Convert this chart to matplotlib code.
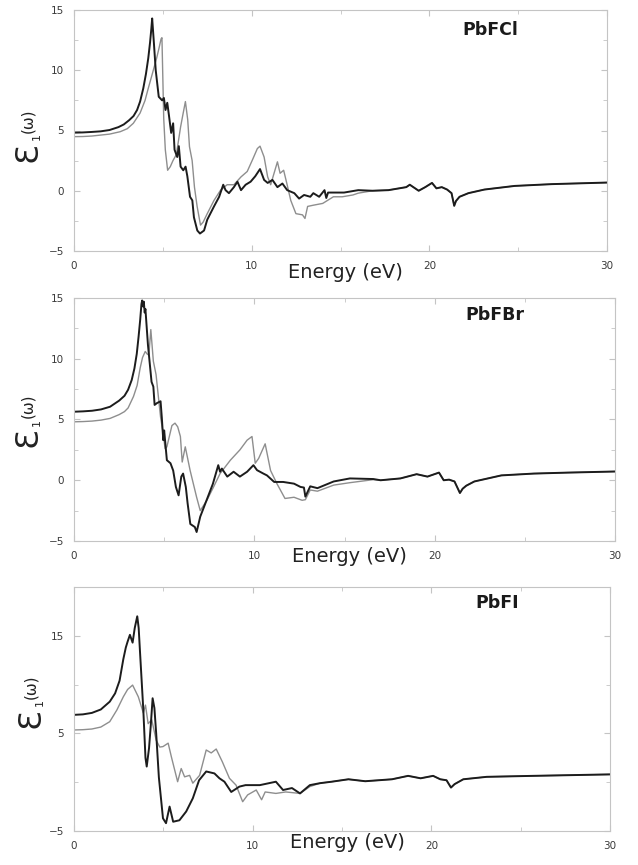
import matplotlib
matplotlib.use("Agg")
import matplotlib.pyplot as plt
from matplotlib.ticker import MultipleLocator, FixedLocator

plt.rcParams['font.family'] = ['DejaVu Sans']

# ---- PbFCl ----
pbfcl_black_e = [0, 0.5, 1, 1.5, 2, 2.5, 2.8, 3.1, 3.35, 3.55, 3.72, 3.9, 4.05, 4.18, 4.28, 4.35, 4.4,
                 4.5, 4.6, 4.77, 4.96, 5.06, 5.15, 5.25, 5.34, 5.47, 5.58, 5.66, 5.81, 5.9, 6.0, 6.15,
                 6.28, 6.38, 6.53, 6.66, 6.75, 6.94, 7.09, 7.32, 7.5, 7.88, 8.17, 8.4, 8.53, 8.72, 9.0,
                 9.2, 9.4, 9.66, 9.94, 10.2, 10.47, 10.7, 10.9, 11.17, 11.45, 11.73, 12.0, 12.4, 12.67,
                 12.95, 13.3, 13.47, 13.8, 14.1, 14.2, 14.3, 15.2, 16.0]
pbfcl_black_eps = [4.82, 4.84, 4.88, 4.93, 5.04, 5.28, 5.5, 5.85, 6.2, 6.7, 7.4, 8.5, 9.7, 11.0,
                   12.3, 13.4, 14.3, 12.2, 10.0, 7.8, 7.5, 7.7, 6.7, 7.3, 6.3, 4.8, 5.6, 3.4, 2.8,
                   3.7, 2.0, 1.7, 2.0, 1.2, -0.5, -0.8, -2.2, -3.3, -3.55, -3.3, -2.4, -1.3, -0.5,
                   0.5, 0.05, -0.2, 0.3, 0.75, 0.05, 0.5, 0.75, 1.2, 1.8, 0.9, 0.65, 0.9, 0.3, 0.6,
                   0.05, -0.2, -0.65, -0.35, -0.5, -0.2, -0.5, 0.05, -0.6, -0.15, -0.15, 0.05]
pbfcl_gray_e = [0, 0.5, 1, 1.5, 2, 2.6, 3.0, 3.34, 3.72, 4.0, 4.18, 4.37, 4.5, 4.65, 4.78, 4.9, 4.95,
                5.05, 5.14, 5.27, 5.42, 5.57, 5.76, 6.0, 6.14, 6.27, 6.4, 6.5, 6.65, 6.78, 6.93, 7.12,
                7.27, 7.5, 7.88, 8.25, 8.62, 9.0, 9.4, 9.75, 10.04, 10.32, 10.47, 10.7, 10.9, 11.07,
                11.26, 11.45, 11.6, 11.8, 11.98, 12.2, 12.49, 12.86, 13.0, 13.15, 13.47, 14.0, 14.6,
                15.1, 15.7, 16.0]
pbfcl_gray_eps = [4.49, 4.5, 4.54, 4.62, 4.7, 4.9, 5.15, 5.6, 6.45, 7.5, 8.5, 9.5, 10.2, 11.0,
                  11.8, 12.6, 12.7, 6.0, 3.4, 1.7, 2.0, 2.5, 3.0, 5.3, 6.4, 7.4, 5.9, 3.65, 2.5, 0.3,
                  -1.3, -2.85, -2.6, -1.9, -0.8, 0.05, 0.5, 0.5, 1.15, 1.6, 2.55, 3.5, 3.7, 2.8,
                  1.15, 0.5, 1.45, 2.4, 1.45, 1.7, 0.6, -0.8, -1.9, -2.0, -2.3, -1.3, -1.2, -1.05,
                  -0.5, -0.5, -0.35, -0.2]
pbfcl_tail_e = [16.8, 17.7, 18.7, 18.9, 19.4, 19.77, 20.15, 20.4, 20.7, 21.0, 21.25, 21.4, 21.5,
                21.7, 22.2, 23.1, 24.8, 26.9, 30.0]
pbfcl_tail_eps = [0.0, 0.05, 0.3, 0.5, 0.0, 0.3, 0.65, 0.2, 0.3, 0.1, -0.2, -1.25, -0.85, -0.5,
                  -0.2, 0.1, 0.4, 0.55, 0.68]

# ---- PbFBr ----
pbfbr_black_e = [0, 0.5, 1, 1.5, 2, 2.5, 2.8, 3.0, 3.2, 3.35, 3.48, 3.58, 3.67, 3.74, 3.78, 3.83, 3.87,
                 3.92, 3.96, 4.1, 4.3, 4.4, 4.47, 4.6, 4.8, 4.87, 4.95, 5.0, 5.15, 5.35, 5.5, 5.65, 5.8,
                 5.95, 6.05, 6.2, 6.3, 6.45, 6.7, 6.8, 7.0, 7.35, 7.7, 8.0, 8.1, 8.2, 8.5, 8.85, 9.2,
                 9.6, 9.95, 10.15, 10.5, 10.7, 11.1, 11.6, 12.2, 12.56, 12.75, 12.83, 13.1, 13.5,
                 14.4, 15.3, 16.6]
pbfbr_black_eps = [5.64, 5.67, 5.72, 5.83, 6.05, 6.55, 6.95, 7.45, 8.25, 9.2, 10.4, 11.8, 13.2,
                   14.5, 14.8, 14.3, 14.7, 13.8, 14.1, 11.15, 8.1, 7.7, 6.2, 6.35, 6.5, 5.15, 3.3,
                   4.1, 1.65, 1.4, 0.8, -0.55, -1.24, 0.3, 0.55, -0.55, -1.9, -3.6, -3.85, -4.26,
                   -3.0, -1.65, -0.3, 1.24, 0.7, 0.96, 0.3, 0.7, 0.3, 0.7, 1.24, 0.83, 0.55, 0.4,
                   -0.14, -0.14, -0.28, -0.55, -0.6, -1.35, -0.5, -0.65, -0.1, 0.15, 0.1]
pbfbr_gray_e = [0, 0.5, 1, 1.5, 2, 2.5, 2.8, 3.0, 3.3, 3.5, 3.67, 3.8, 3.95, 4.05, 4.15, 4.26, 4.4,
                4.55, 4.67, 4.8, 4.95, 5.05, 5.15, 5.43, 5.6, 5.75, 5.9, 6.0, 6.17, 6.44, 6.8, 7.0,
                7.37, 7.74, 8.1, 8.67, 9.2, 9.6, 9.87, 10.05, 10.24, 10.6, 10.9, 11.26, 11.7, 12.2,
                12.65, 12.83, 13.1, 13.5, 14.4, 15.3, 16.6]
pbfbr_gray_eps = [4.81, 4.83, 4.87, 4.95, 5.09, 5.4, 5.65, 5.95, 6.9, 7.8, 9.25, 10.1, 10.6, 10.4,
                  10.3, 12.4, 9.8, 8.7, 7.0, 5.2, 3.8, 2.6, 2.75, 4.5, 4.7, 4.4, 3.6, 1.5, 2.75,
                  0.8, -1.4, -2.5, -1.65, -0.55, 0.55, 1.65, 2.5, 3.3, 3.6, 1.4, 1.8, 3.0, 0.8,
                  -0.3, -1.5, -1.4, -1.65, -1.6, -0.8, -0.9, -0.4, -0.2, 0.05]
pbfbr_tail_e = [17.0, 18.1, 19.0, 19.6, 20.24, 20.5, 20.8, 21.1, 21.4, 21.55, 21.75, 22.2, 23.7,
                25.5, 27.4, 30.0]
pbfbr_tail_eps = [0.0, 0.15, 0.5, 0.3, 0.63, 0.0, 0.05, -0.1, -1.05, -0.7, -0.45, -0.1, 0.4, 0.55,
                  0.63, 0.72]

# ---- PbFI ----
pbfi_black_e = [0, 0.5, 1.0, 1.5, 2.0, 2.3, 2.55, 2.76, 2.9, 3.0, 3.13, 3.28, 3.4, 3.54, 3.62, 3.69,
                3.88, 4.0, 4.07, 4.2, 4.3, 4.4, 4.5, 4.6, 4.75, 4.98, 5.15, 5.35, 5.55, 5.9, 6.28,
                6.65, 7.0, 7.4, 7.86, 8.14, 8.42, 8.8, 9.26, 9.6, 10.4, 11.3, 11.7, 12.2, 12.65,
                13.2, 13.77]
pbfi_black_eps = [6.9, 6.95, 7.1, 7.45, 8.25, 9.1, 10.4, 12.6, 13.8, 14.4, 15.1, 14.3, 15.8, 17.0,
                  15.8, 13.5, 7.4, 2.5, 1.6, 3.5, 5.9, 8.6, 7.6, 5.0, 0.5, -3.7, -4.2, -2.5, -4.05,
                  -3.9, -3.0, -1.65, 0.2, 1.1, 0.9, 0.4, 0.05, -1.0, -0.45, -0.3, -0.3, 0.05, -0.8,
                  -0.6, -1.15, -0.3, -0.1]
pbfi_gray_e = [0, 0.5, 1, 1.5, 2.0, 2.4, 2.76, 3.0, 3.28, 3.6, 3.88, 4.0, 4.15, 4.35, 4.6, 4.8, 4.98,
               5.27, 5.45, 5.8, 6.0, 6.19, 6.47, 6.65, 7.03, 7.4, 7.68, 7.96, 8.3, 8.7, 9.07, 9.44,
               9.72, 10.2, 10.5, 10.7, 11.3, 11.85, 12.65, 13.2, 13.77]
pbfi_gray_eps = [5.35, 5.38, 5.45, 5.65, 6.2, 7.4, 8.75, 9.5, 9.95, 8.75, 7.1, 7.9, 6.0, 6.4, 4.3,
                 3.6, 3.65, 4.0, 2.6, 0.05, 1.4, 0.55, 0.7, -0.1, 0.7, 3.3, 3.0, 3.4, 2.1, 0.4,
                 -0.3, -2.0, -1.3, -0.8, -1.8, -1.0, -1.15, -1.0, -1.15, -0.45, -0.1]
pbfi_tail_e = [14.42, 15.36, 16.3, 17.8, 18.7, 19.4, 20.1, 20.5, 20.85, 21.1, 21.3, 21.79, 23.1,
               25.7, 30.0]
pbfi_tail_eps = [0.05, 0.3, 0.1, 0.3, 0.65, 0.4, 0.65, 0.3, 0.2, -0.55, -0.2, 0.3, 0.55, 0.65, 0.8]

panels = [
    ("PbFCl", pbfcl_black_e, pbfcl_black_eps, pbfcl_gray_e, pbfcl_gray_eps, pbfcl_tail_e, pbfcl_tail_eps),
    ("PbFBr", pbfbr_black_e, pbfbr_black_eps, pbfbr_gray_e, pbfbr_gray_eps, pbfbr_tail_e, pbfbr_tail_eps),
    ("PbFI", pbfi_black_e, pbfi_black_eps, pbfi_gray_e, pbfi_gray_eps, pbfi_tail_e, pbfi_tail_eps),
]

# axes rectangles (pixels in a 638x865 picture)
rects = [(74, 10, 607, 251), (74, 298, 615, 541), (74, 587, 610, 831)]
title_pos = [(0.782, 0.917), (0.778, 0.93), (0.789, 0.934)]
xlabel_off = [21, 16, 12]
ylabel_px = [(28, 152), (28, 437), (31, 718)]

W, H = 638, 865
fig = plt.figure(figsize=(W / 100, H / 100), dpi=100)
fig.patch.set_facecolor("white")


def ftext(x, y, s, **kw):
    fig.text(x / W, 1 - y / H, s, **kw)


frame = "#c4c4c4"
for i, (name, be, beps, ge, geps, te, teps) in enumerate(panels):
    x0, y0, x1, y1 = rects[i]
    ax = fig.add_axes([x0 / W, 1 - y1 / H, (x1 - x0) / W, (y1 - y0) / H])

    ax.plot(ge + te, geps + teps, color="#8e8e8e", lw=1.0)
    ax.plot(be + te, beps + teps, color="#1c1c1c", lw=1.4)

    ax.set_xlim(0, 30)
    ax.xaxis.set_major_locator(MultipleLocator(10))
    ax.xaxis.set_minor_locator(MultipleLocator(5))
    if i < 2:
        ax.set_ylim(-5, 15)
        ax.yaxis.set_major_locator(MultipleLocator(5))
        ax.yaxis.set_minor_locator(MultipleLocator(2.5))
    else:
        ax.set_ylim(-5, 20)
        ax.yaxis.set_major_locator(FixedLocator([-5, 5, 15]))
        ax.yaxis.set_minor_locator(FixedLocator([0, 10, 20]))

    for s in ax.spines.values():
        s.set_color(frame)
        s.set_linewidth(0.8)
    ax.tick_params(which="both", direction="in", top=True, right=True, color=frame,
                   labelcolor="#3a3a3a", labelsize=7.5, pad=7)
    ax.tick_params(which="major", length=4)
    ax.tick_params(which="minor", length=3)
    ax.yaxis.set_major_formatter(plt.FuncFormatter(lambda v, p: "\u2212" + str(int(-v)) if v < 0 else str(int(v))))

    ax.text(title_pos[i][0], title_pos[i][1], name, transform=ax.transAxes, ha="center", va="center",
            fontsize=12.5, fontweight="bold", color="#1a1a1a")
    ax.text(0.51, -xlabel_off[i] / (y1 - y0), "Energy (eV)", transform=ax.transAxes, ha="center",
            va="center", fontsize=14, color="#222222")

    # y label: epsilon_1(omega), drawn in three pieces like the original
    lx, ly = ylabel_px[i]
    ftext(lx, ly, "\u0190", rotation=90, ha="center", va="center", fontsize=23, color="#222222")
    ftext(lx + 9, ly - 15, "1", rotation=90, ha="center", va="center", fontsize=8, color="#222222")
    ftext(lx, ly - 31, "(\u03c9)", rotation=90, ha="center", va="center", fontsize=11, color="#222222")

fig.savefig("out.png", dpi=100)
